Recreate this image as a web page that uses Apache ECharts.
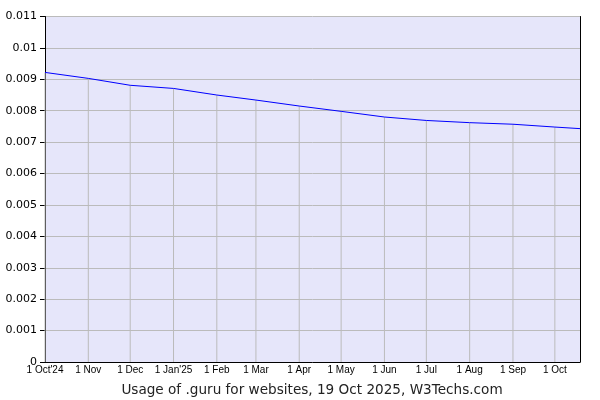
<!DOCTYPE html>
<html>
<head>
<meta charset="utf-8">
<script src="https://cdn.jsdelivr.net/npm/echarts@6/dist/echarts.min.js"></script>
<style>html,body{margin:0;padding:0;background:#fff}#c{width:600px;height:400px}</style>
</head>
<body>
<div id="c"></div>
<script>
const dates = ['2024-10-01','2024-11-01','2024-12-01','2025-01-01','2025-02-01','2025-03-01','2025-04-01','2025-05-01','2025-06-01','2025-07-01','2025-08-01','2025-09-01','2025-10-01','2025-10-19'];
const usage = [0.00922,0.00903,0.00881,0.00871,0.00850,0.00834,0.00815,0.00798,0.00780,0.00769,0.00762,0.00757,0.00748,0.00743];
const tickDates = ['2024-10-01','2024-11-01','2024-12-01','2025-01-01','2025-02-01','2025-03-01','2025-04-01','2025-05-01','2025-06-01','2025-07-01','2025-08-01','2025-09-01','2025-10-01'];
const tickLabels = ["1 Oct'24","1 Nov","1 Dec","1 Jan'25","1 Feb","1 Mar","1 Apr","1 May","1 Jun","1 Jul","1 Aug","1 Sep","1 Oct"];
const titleText = 'Usage of .guru for websites, 19 Oct 2025, W3Techs.com';

function toTime(s){const p=s.split('-').map(Number);return Date.UTC(p[0],p[1]-1,p[2]);}
const times = dates.map(toTime);
const tickTimes = tickDates.map(toTime);
const lineData = times.map((t,i)=>[t,usage[i]]);
const barData = tickTimes.map(t=>[t,usage[times.indexOf(t)]]);

const chart = echarts.init(document.getElementById('c'), null, {renderer:'canvas'});
chart.setOption({
  animation:false,
  backgroundColor:'#ffffff',
  title:{text:titleText,left:307,top:378,textAlign:'center',
    textStyle:{fontFamily:'DejaVu Sans',fontSize:13.6,fontWeight:'normal',color:'#222'}},
  grid:{left:45,right:20,top:16.5,bottom:38,show:true,backgroundColor:'#e6e6fa',borderWidth:0,containLabel:false},
  xAxis:{type:'value',min:times[0],max:times[times.length-1],scale:true,
    axisLine:{show:true,lineStyle:{color:'#000',width:1}},
    axisTick:{show:false},
    splitLine:{show:false},
    axisLabel:{customValues:tickTimes,margin:3,hideOverlap:false,showMinLabel:true,showMaxLabel:true,
      fontFamily:'Liberation Sans',fontSize:10,color:'#000',
      formatter:function(v){let best=0,bd=Infinity;tickTimes.forEach((t,i)=>{const d=Math.abs(t-v);if(d<bd){bd=d;best=i;}});return tickLabels[best];}}
  },
  yAxis:[{type:'value',min:0,max:0.011,interval:0.001,
    axisLine:{show:true,lineStyle:{color:'#000',width:1}},
    axisTick:{show:true,length:5,lineStyle:{color:'#000'}},
    splitLine:{show:true,lineStyle:{color:'#bbbbbb',width:1}},
    axisLabel:{margin:8,fontFamily:'DejaVu Sans',fontSize:11,color:'#000',
      formatter:function(v){return String(+v.toFixed(3));}}
  },{type:'value',position:'right',min:0,max:0.011,interval:0.001,
    axisLine:{show:true,lineStyle:{color:'#000',width:1}},
    axisTick:{show:false},axisLabel:{show:false},splitLine:{show:false}}],
  series:[
    {type:'bar',data:barData,barWidth:1,silent:true,itemStyle:{color:'#bbbbbb'},z:1},
    {type:'line',data:lineData,symbol:'none',silent:true,lineStyle:{color:'#0000ff',width:1},z:3}
  ]
});
</script>
</body>
</html>
